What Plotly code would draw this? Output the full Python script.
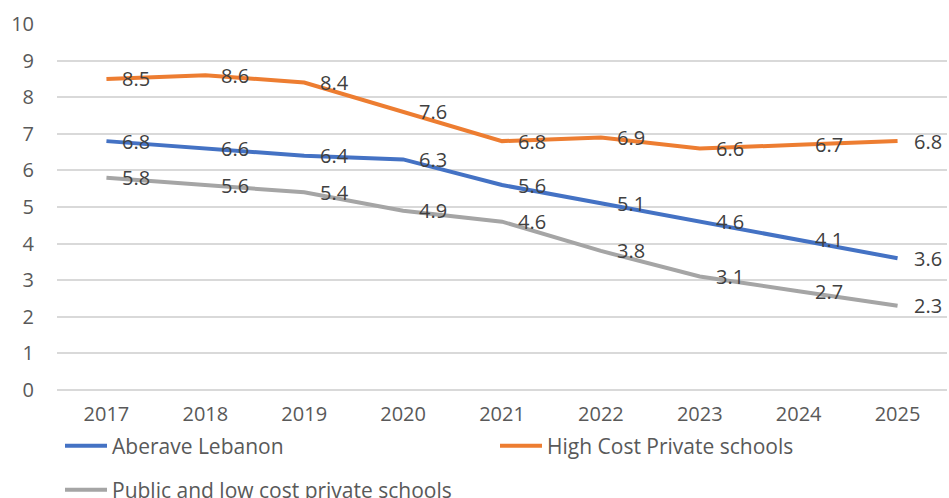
import plotly.graph_objects as go

# Yearly values for each school category
years = ["2017", "2018", "2019", "2020", "2021", "2022", "2023", "2024", "2025"]
avg_lebanon = [6.8, 6.6, 6.4, 6.3, 5.6, 5.1, 4.6, 4.1, 3.6]
high_cost_private = [8.5, 8.6, 8.4, 7.6, 6.8, 6.9, 6.6, 6.7, 6.8]
public_low_cost = [5.8, 5.6, 5.4, 4.9, 4.6, 3.8, 3.1, 2.7, 2.3]

series_names = ["Aberave Lebanon", "High Cost Private schools", "Public and low cost private schools"]
series_values = [avg_lebanon, high_cost_private, public_low_cost]
series_colors = ["#4472C4", "#ED7D31", "#A5A5A5"]
series_legends = ["legend", "legend2", "legend3"]

W, H = 949, 498
FONT = "Open Sans"
TEXT_COLOR = "#595959"
LABEL_COLOR = "#404040"

fig = go.Figure()
for name, vals, color, leg in zip(series_names, series_values, series_colors, series_legends):
    fig.add_trace(go.Scatter(
        x=years, y=vals, name=name, mode="lines",
        line=dict(color=color, width=4),
        legend=leg, hoverinfo="x+y+name",
    ))

# Data labels placed to the right of each point (x given as category index)
annotations = []
for vals in series_values:
    for i, v in enumerate(vals):
        annotations.append(dict(
            x=i, y=v, xref="x", yref="y", text=f"{v}",
            showarrow=False, xanchor="left", yanchor="middle",
            xshift=14, font=dict(family=FONT, size=20, color=LABEL_COLOR),
        ))


def legend_box(x_px, y_px):
    # One legend entry anchored at a pixel position in the page
    return dict(
        orientation="h", xref="container", yref="container",
        x=x_px / W, y=1 - y_px / H, xanchor="left", yanchor="middle",
        itemwidth=42,
        font=dict(family=FONT, size=21, color=TEXT_COLOR),
        bgcolor="rgba(0,0,0,0)",
    )


fig.update_layout(
    width=W, height=H,
    margin=dict(l=57, r=2, t=24, b=108, autoexpand=False),
    paper_bgcolor="white", plot_bgcolor="white",
    font=dict(family=FONT, size=20, color=TEXT_COLOR),
    annotations=annotations,
    showlegend=True,
    legend=legend_box(60, 446),
    legend2=legend_box(495, 446),
    legend3=legend_box(60, 490),
    xaxis=dict(
        type="category", range=[-0.5, len(years) - 0.5],
        showgrid=False, zeroline=False, showline=False,
        ticks="", ticklabelstandoff=10,
        tickfont=dict(family=FONT, size=20, color=TEXT_COLOR),
    ),
    yaxis=dict(
        range=[0, 10], dtick=1, showgrid=True, gridcolor="#D9D9D9", gridwidth=1.5,
        zeroline=True, zerolinecolor="#D9D9D9", zerolinewidth=1.5,
        showline=False, ticks="", ticklabelstandoff=22,
        tickfont=dict(family=FONT, size=20, color=TEXT_COLOR),
    ),
)

fig.write_html("out.html")
